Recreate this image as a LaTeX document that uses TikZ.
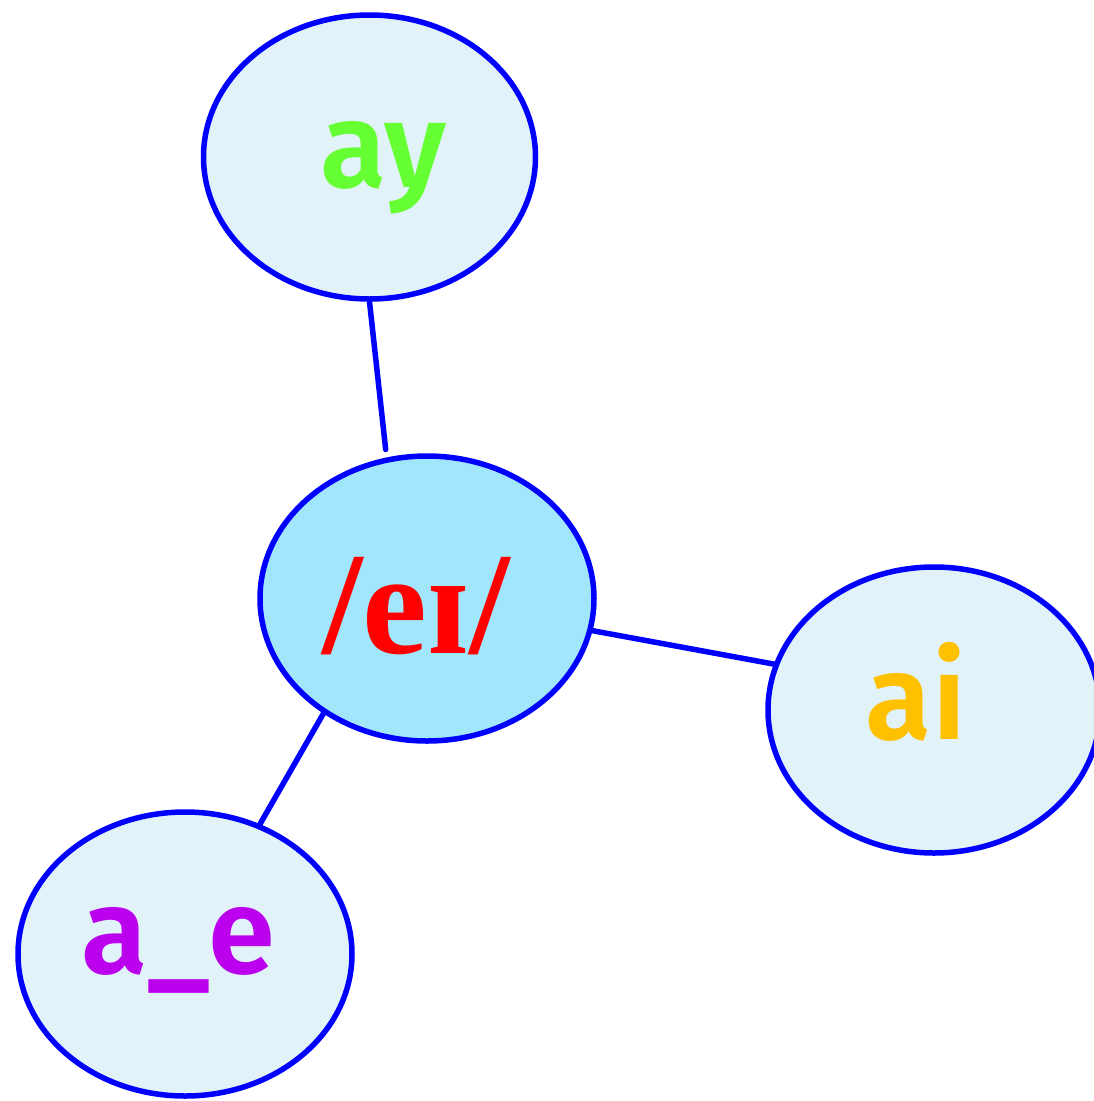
\documentclass[tikz,border=0pt]{standalone}
\usepackage{fontspec}
\setmainfont{Liberation Serif}
\newfontfamily\firafont{Fira Sans SemiBold}
\usetikzlibrary{shapes.geometric,calc}
\definecolor{ringblue}{HTML}{0000FF}
\definecolor{pale}{HTML}{E1F2F9}
\definecolor{sky}{HTML}{A2E6FB}
\definecolor{lgreen}{HTML}{66FF33}
\definecolor{amber}{HTML}{FFC000}
\definecolor{violet}{HTML}{BB00EE}
\tikzset{
  ell/.style={ellipse, draw=ringblue, line width=5.5pt, inner sep=0pt, fill=pale},
  link/.style={draw=ringblue, line width=5.5pt, line cap=round},
  sanslbl/.style={anchor=base, inner sep=0pt, font=\firafont\fontsize{121}{121}\selectfont},
  seriflbl/.style={anchor=base, inner sep=0pt, font=\bfseries\fontsize{146}{146}\selectfont, text=red}
}
\begin{document}
\begin{tikzpicture}[x=1pt,y=-1pt]
\useasboundingbox (0,0) rectangle (1094,1101);
\node[ell, minimum width=332pt, minimum height=284pt] (ay) at (369.5,157) {};
\node[ell, fill=sky, minimum width=334pt, minimum height=285pt] (c) at (427,598.5) {};
\node[ell, minimum width=332pt, minimum height=286pt] (ai) at (934,710) {};
\node[ell, minimum width=334pt, minimum height=284pt] (ae) at (185,954) {};
\draw[link, shorten >=8pt] (ay.270) -- (c.106.6);
\draw[link] (c.-11.6) -- (ai.164.9);
\draw[link] (c.228.6) -- (ae.60);
\node[sanslbl, text=lgreen] (ayt) at (383.5,187) {ay};
\node[sanslbl, text=amber] (ait) at (916,739) {ai};
\node[sanslbl, text=violet] (aet) at (178,973) {a\_e};
\node[seriflbl] (ct) at (416,653) {/eɪ/};
\end{tikzpicture}
\end{document}
